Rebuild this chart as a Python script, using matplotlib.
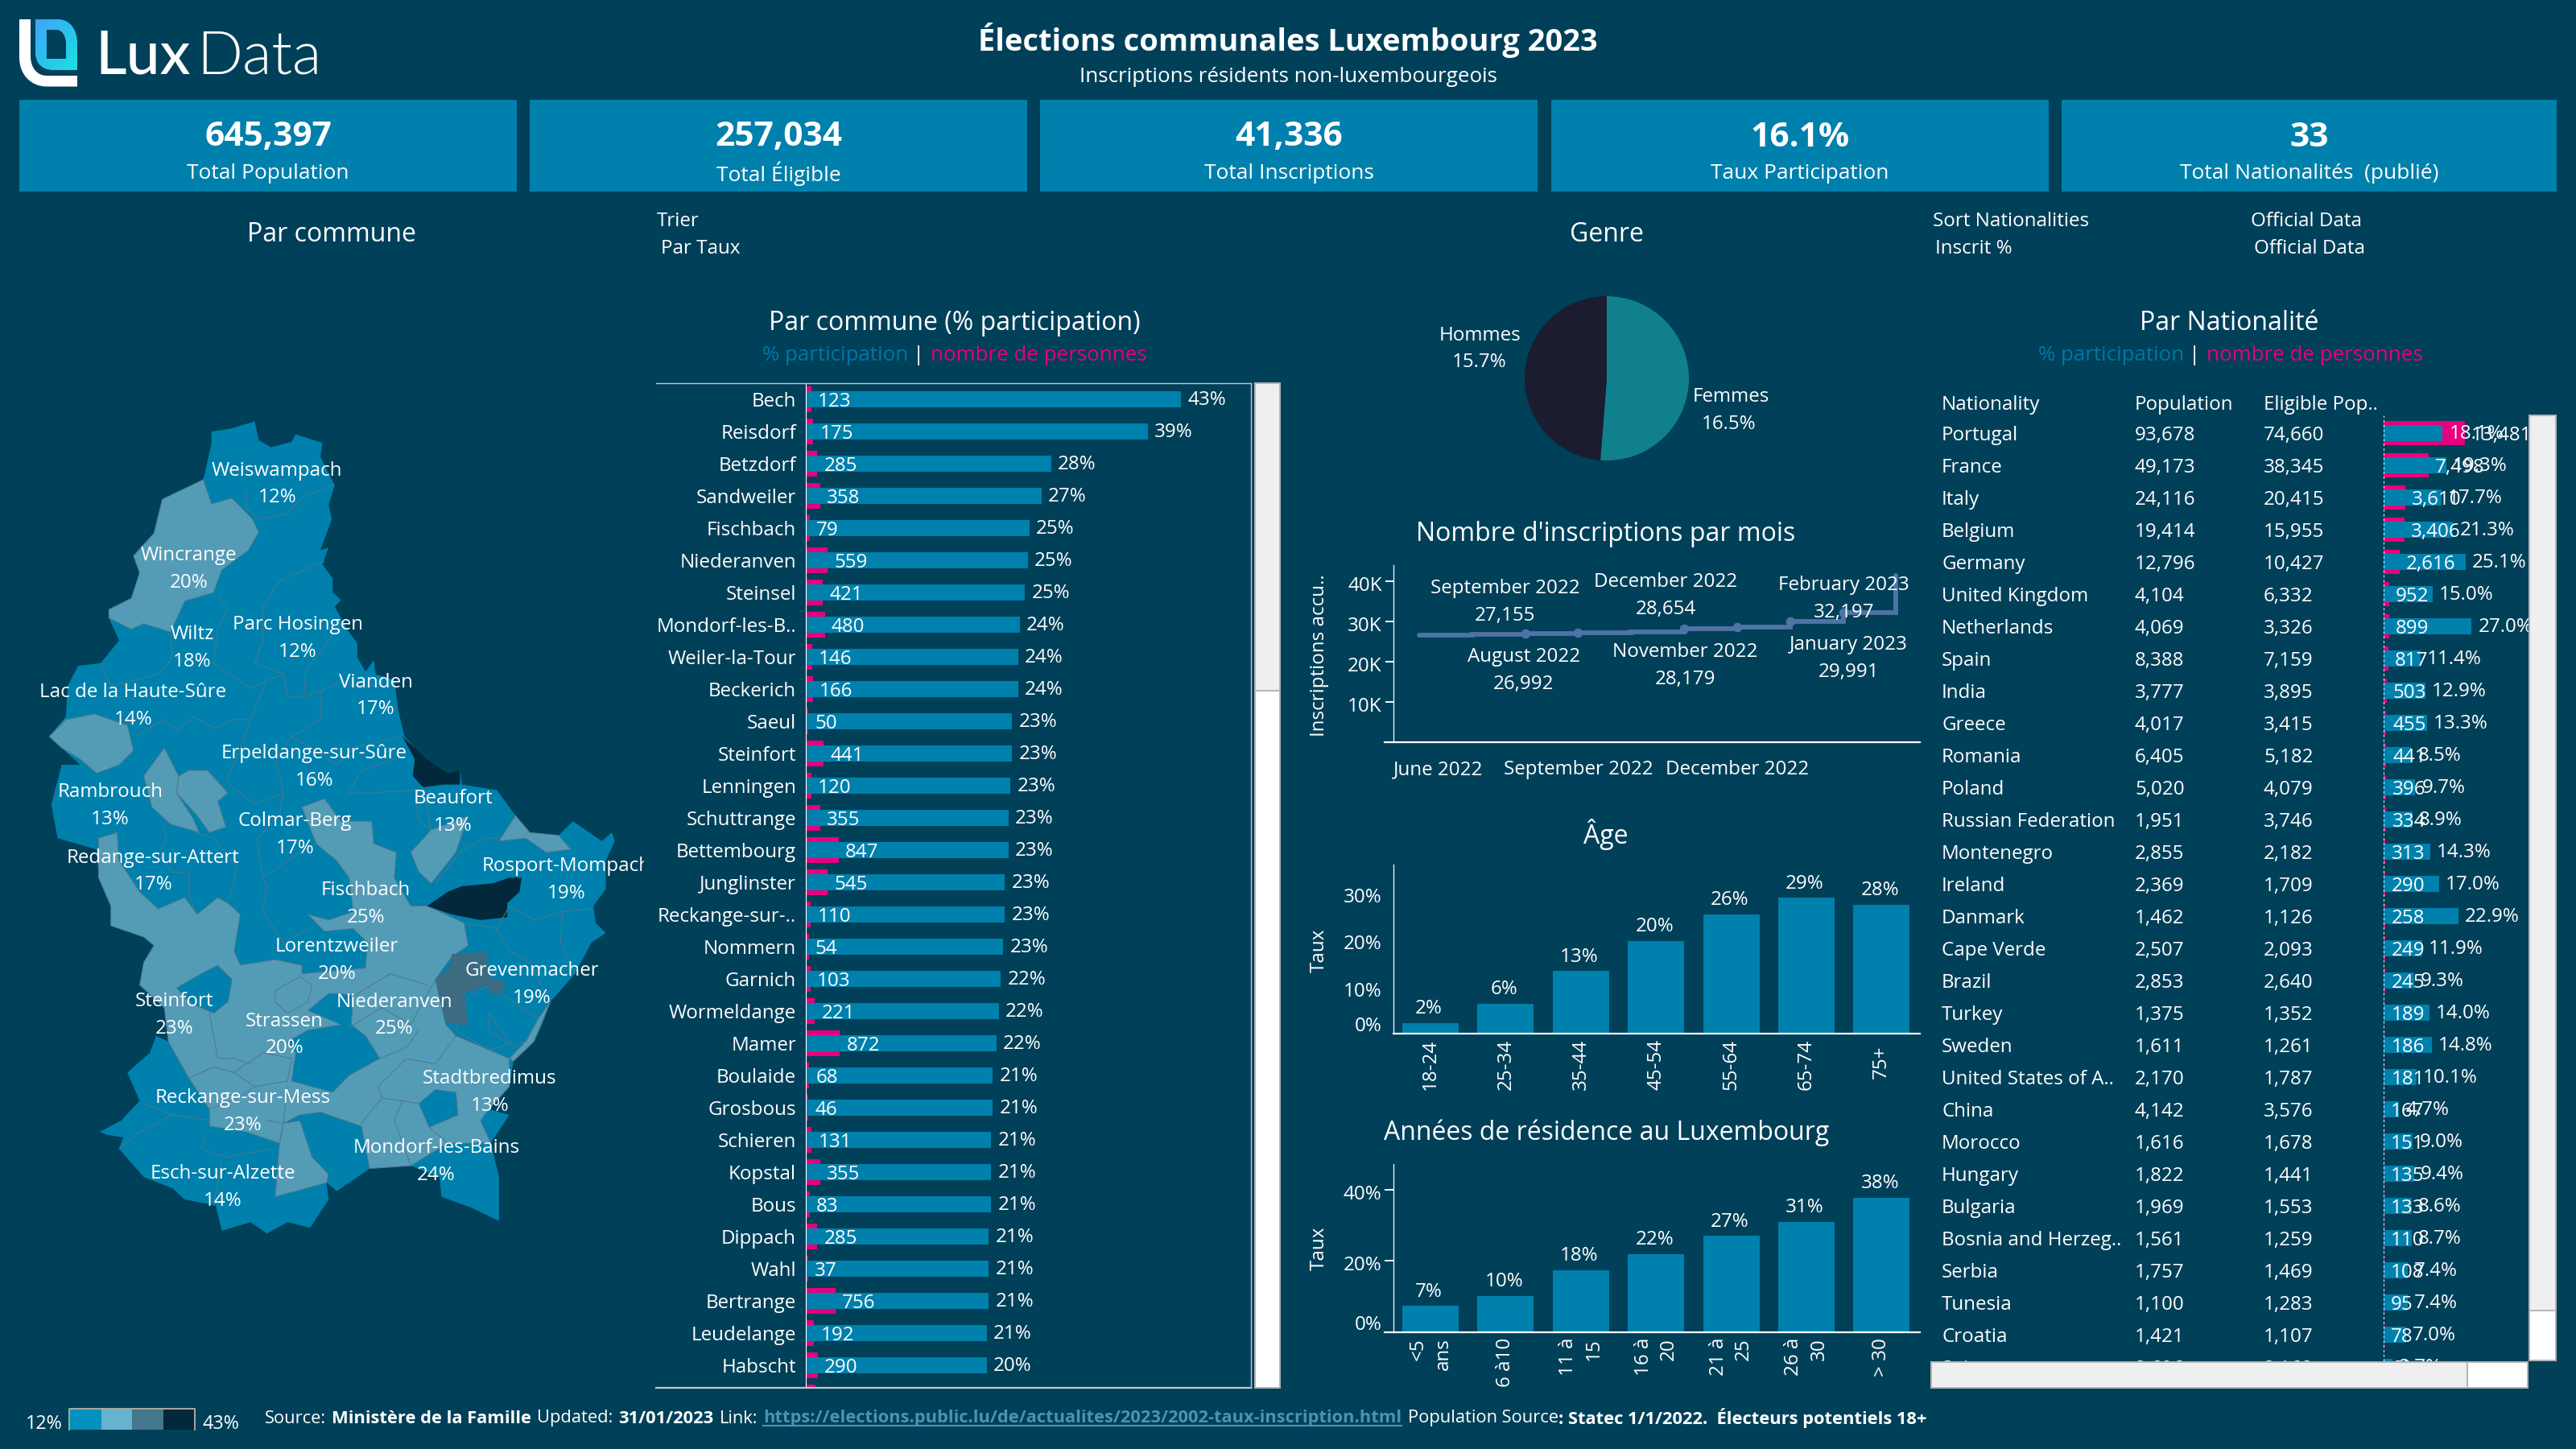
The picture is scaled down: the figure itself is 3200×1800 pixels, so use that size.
#!/usr/bin/env python
# -*- coding: utf8 -*-

import numpy as np
import matplotlib
matplotlib.use("Agg")
import matplotlib.pyplot as plt
from matplotlib.colors import LinearSegmentedColormap
from matplotlib.patches import PathPatch, Polygon, Rectangle
from matplotlib.path import Path
from matplotlib.transforms import ScaledTranslation

BG = '#004059'
BLUE = '#0080ac'
LIGHT = '#549bb6'
MID = '#3d6b82'
DARK = '#02283b'
PINK = '#e6007e'
WHITE = '#ffffff'
GREY = '#b4b4b4'
BORDER = '#4f788c'

kpi_values = ['645,397', '257,034', '41,336', '16.1%', '33']
kpi_labels = ['Total Population', 'Total Éligible', 'Total Inscriptions', 'Taux Participation', 'Total Nationalités  (publié)']

commune_names = ['Bech', 'Reisdorf', 'Betzdorf', 'Sandweiler', 'Fischbach', 'Niederanven', 'Steinsel', 'Mondorf-les-B..',
                 'Weiler-la-Tour', 'Beckerich', 'Saeul', 'Steinfort', 'Lenningen', 'Schuttrange', 'Bettembourg',
                 'Junglinster', 'Reckange-sur-..', 'Nommern', 'Garnich', 'Wormeldange', 'Mamer', 'Boulaide', 'Grosbous',
                 'Schieren', 'Kopstal', 'Bous', 'Dippach', 'Wahl', 'Bertrange', 'Leudelange', 'Habscht', '']
commune_pct = [43.0, 39.2, 28.1, 27.0, 25.6, 25.4, 25.1, 24.5, 24.3, 24.3, 23.6, 23.6, 23.4, 23.2, 23.2, 22.8, 22.8, 22.6,
               22.3, 22.1, 21.8, 21.4, 21.4, 21.2, 21.2, 21.2, 20.9, 20.9, 20.9, 20.7, 20.7, 20.4]
commune_pct_labels = ['43%', '39%', '28%', '27%', '25%', '25%', '25%', '24%', '24%', '24%', '23%', '23%', '23%', '23%',
                      '23%', '23%', '23%', '23%', '22%', '22%', '22%', '21%', '21%', '21%', '21%', '21%', '21%', '21%',
                      '21%', '21%', '20%', '20%']
commune_count = [123, 175, 285, 358, 79, 559, 421, 480, 146, 166, 50, 441, 120, 355, 847, 545, 110, 54, 103, 221, 872, 68,
                 46, 131, 355, 83, 285, 37, 756, 192, 290, 240]

nat_names = ['Portugal', 'France', 'Italy', 'Belgium', 'Germany', 'United Kingdom', 'Netherlands', 'Spain', 'India',
             'Greece', 'Romania', 'Poland', 'Russian Federation', 'Montenegro', 'Ireland', 'Danmark', 'Cape Verde',
             'Brazil', 'Turkey', 'Sweden', 'United States of A..', 'China', 'Morocco', 'Hungary', 'Bulgaria',
             'Bosnia and Herzeg..', 'Serbia', 'Tunesia', 'Croatia', 'Suisse']
nat_population = [93678, 49173, 24116, 19414, 12796, 4104, 4069, 8388, 3777, 4017, 6405, 5020, 1951, 2855, 2369, 1462,
                  2507, 2853, 1375, 1611, 2170, 4142, 1616, 1822, 1969, 1561, 1757, 1100, 1421, 2696]
nat_eligible = [74660, 38345, 20415, 15955, 10427, 6332, 3326, 7159, 3895, 3415, 5182, 4079, 3746, 2182, 1709, 1126,
                2093, 2640, 1352, 1261, 1787, 3576, 1678, 1441, 1553, 1259, 1469, 1283, 1107, 2168]
nat_pct = [18.1, 19.3, 17.7, 21.3, 25.1, 15.0, 27.0, 11.4, 12.9, 13.3, 8.5, 9.7, 8.9, 14.3, 17.0, 22.9, 11.9, 9.3, 14.0,
           14.8, 10.1, 4.7, 9.0, 9.4, 8.6, 8.7, 7.4, 7.4, 7.0, 2.7]
nat_count = [13481, 7498, 3610, 3406, 2616, 952, 899, 817, 503, 455, 441, 396, 334, 313, 290, 258, 249, 245, 189, 186,
             181, 167, 151, 135, 133, 110, 108, 95, 78, 60]

genre_labels = ['Femmes', 'Hommes']
genre_values = [16.5, 15.7]

months = ['June 2022', 'July 2022', 'August 2022', 'September 2022', 'October 2022', 'November 2022', 'December 2022',
          'January 2023', 'February 2023', 'March 2023']
month_values = [26600, 26750, 26992, 27155, 27500, 28179, 28654, 29991, 32197, 41336]

age_labels = ['18-24', '25-34', '35-44', '45-54', '55-64', '65-74', '75+']
age_values = [2.3, 6.4, 13.3, 19.8, 25.4, 28.9, 27.5]
age_value_labels = ['2%', '6%', '13%', '20%', '26%', '29%', '28%']

res_labels = ['<5\nans', '6 à10', '11 à\n15', '16 à\n20', '21 à\n25', '26 à\n30', '> 30']
res_values = [7.4, 10.2, 17.4, 22.0, 27.0, 31.0, 37.8]
res_value_labels = ['7%', '10%', '18%', '22%', '27%', '31%', '38%']

legend_colors = ['#0190c0', '#66b2cf', '#44778b', '#03283a']

# map shapes
lux_outline = [(515, 80), (560, 75), (620, 62), (630, 95), (660, 108), (710, 98), (720, 85), (785, 100), (780, 125),
               (815, 175), (800, 210), (808, 235), (780, 290), (800, 285), (785, 315), (810, 340), (810, 365), (830, 378),
               (815, 390), (845, 430), (870, 455), (870, 480), (890, 505), (910, 485), (915, 510), (960, 520), (970, 575),
               (985, 620), (1010, 640), (1040, 660), (1090, 685), (1120, 680), (1125, 705), (1210, 715), (1250, 755),
               (1290, 790), (1360, 795), (1395, 770), (1465, 805), (1490, 790), (1497, 805), (1475, 840), (1475, 890),
               (1445, 920), (1450, 950), (1475, 968), (1440, 985), (1400, 1040), (1340, 1090), (1320, 1130), (1300, 1160),
               (1250, 1195), (1240, 1240), (1190, 1280), (1240, 1290), (1195, 1340), (1215, 1400), (1215, 1478),
               (1150, 1455), (1075, 1435), (1070, 1400), (1000, 1380), (900, 1385), (840, 1415), (820, 1425), (795, 1410),
               (800, 1440), (755, 1490), (700, 1480), (650, 1500), (610, 1480), (540, 1495), (525, 1450), (450, 1440),
               (420, 1420), (350, 1400), (290, 1350), (300, 1330), (260, 1325), (243, 1320), (295, 1300), (340, 1265),
               (310, 1215), (365, 1180), (380, 1150), (410, 1160), (400, 1100), (340, 1060), (350, 1020), (375, 990),
               (350, 975), (270, 955), (270, 920), (240, 870), (235, 820), (140, 800), (125, 740), (150, 670), (195, 670),
               (120, 620), (160, 585), (165, 530), (190, 495), (245, 490), (290, 450), (265, 410), (265, 395), (320, 375),
               (340, 330), (325, 300), (375, 260), (395, 200), (495, 165), (515, 100)]

light_regions = [
    [(495, 165), (515, 208), (565, 198), (615, 235), (630, 258), (605, 290), (540, 325), (520, 365), (450, 380), (415, 435),
     (350, 420), (320, 430), (265, 410), (265, 395), (320, 375), (340, 330), (325, 300), (375, 260), (395, 200)],
    [(120, 620), (160, 590), (230, 580), (310, 600), (325, 645), (290, 670), (235, 685), (195, 660), (150, 640)],
    [(400, 640), (435, 690), (430, 720), (470, 765), (485, 790), (415, 775), (370, 745), (350, 690)],
    [(460, 680), (505, 680), (555, 720), (530, 735), (550, 780), (510, 790), (480, 760), (430, 720), (435, 690)],
    [(240, 800), (285, 790), (290, 840), (340, 895), (385, 925), (450, 905), (480, 935), (530, 905), (555, 915), (585, 935),
     (570, 1000), (585, 1025), (670, 1015), (735, 1025), (735, 1040), (890, 1030), (895, 985), (860, 960), (790, 965),
     (750, 935), (800, 945), (860, 930), (850, 870), (820, 840), (770, 810), (735, 745), (790, 730), (830, 770), (905, 770),
     (910, 810), (965, 825), (960, 870), (1000, 920), (1040, 920), (1130, 950), (1140, 990), (1100, 1010), (1060, 1050),
     (1085, 1130), (1110, 1150), (1240, 1190), (1240, 1240), (1190, 1280), (1170, 1300), (1195, 1340), (1090, 1340),
     (1000, 1380), (900, 1385), (880, 1310), (780, 1285), (730, 1290), (690, 1305), (680, 1340), (600, 1320), (510, 1310),
     (510, 1280), (460, 1225), (410, 1160), (400, 1100), (340, 1060), (350, 1020), (375, 990), (350, 975), (270, 955),
     (270, 920), (240, 870)],
    [(690, 1305), (730, 1300), (760, 1365), (800, 1395), (795, 1410), (670, 1435), (680, 1345)],
    [(1000, 825), (1050, 785), (1110, 770), (1140, 760), (1110, 825), (1050, 880), (1020, 860)],
    [(1215, 805), (1255, 760), (1290, 790), (1360, 795), (1390, 820), (1330, 825), (1280, 800)],
    [(1340, 1090), (1300, 1160), (1250, 1195), (1240, 1190), (1280, 1160), (1310, 1120)],
]

blue_regions = [
    [(430, 1065), (490, 1040), (530, 1025), (565, 1050), (555, 1090), (520, 1110), (460, 1090)],
    [(750, 1105), (800, 1075), (830, 1075), (860, 1080), (855, 1130), (890, 1150), (925, 1190), (850, 1220), (810, 1250),
     (710, 1230), (720, 1180), (700, 1160), (750, 1140), (830, 1130)],
    [(1020, 1270), (1060, 1245), (1110, 1250), (1115, 1290), (1045, 1312)],
    [(1110, 1140), (1140, 1080), (1190, 1060), (1240, 1085), (1310, 1120), (1280, 1160), (1250, 1170), (1190, 1110),
     (1190, 1140), (1240, 1165), (1190, 1175)],
]

dark_regions = [
    [(980, 620), (1010, 640), (1040, 660), (1090, 685), (1120, 680), (1120, 705), (1080, 705), (1030, 710), (1005, 690),
     (1010, 660)],
    [(1040, 920), (1090, 895), (1125, 885), (1200, 880), (1240, 870), (1270, 870), (1265, 895), (1235, 915), (1235, 940),
     (1170, 945), (1100, 935)],
]

mid_region = [(1100, 1005), (1185, 1002), (1190, 1045), (1230, 1055), (1225, 1075), (1195, 1075), (1185, 1060), (1130, 1075),
              (1140, 1130), (1110, 1130), (1085, 1125), (1060, 1050), (1095, 1030)]

commune_borders = [
    [(600, 185), (600, 215), (630, 235), (700, 225), (740, 195), (810, 175)],
    [(530, 370), (555, 395), (530, 430), (520, 490), (570, 515), (610, 535), (650, 520), (690, 510), (700, 550), (740, 550),
     (780, 540), (820, 525), (870, 530), (940, 530)],
    [(640, 390), (680, 345), (740, 325), (790, 310)],
    [(640, 390), (640, 450), (620, 490), (690, 510)],
    [(740, 550), (745, 500), (780, 470), (810, 440)],
    [(415, 435), (420, 480), (385, 510), (330, 520), (270, 530), (245, 490)],
    [(330, 620), (400, 590), (430, 610), (470, 585), (520, 605), (570, 590), (610, 590), (650, 520)],
    [(610, 590), (580, 650), (550, 700), (620, 740), (690, 720), (670, 660), (710, 620), (780, 590), (780, 540)],
    [(710, 620), (760, 640), (820, 670), (860, 640), (975, 620)],
    [(850, 720), (880, 680), (960, 660)],
    [(850, 720), (900, 720), (1010, 715), (1020, 770), (1050, 785)],
    [(690, 720), (680, 760), (640, 790), (625, 800), (640, 870), (650, 885), (640, 930), (690, 985), (750, 960)],
    [(640, 870), (720, 830), (770, 810)],
    [(400, 780), (405, 800), (385, 830), (420, 860), (460, 860), (460, 900), (475, 930)],
    [(480, 790), (520, 800), (575, 850), (570, 880), (555, 910)],
    [(1130, 950), (1210, 960), (1240, 1000), (1290, 1020), (1340, 1090)],
    [(1210, 960), (1240, 920), (1300, 945), (1370, 930), (1440, 925)],
    [(1370, 930), (1365, 985), (1400, 1040)],
    [(1120, 825), (1180, 800), (1215, 800)],
    [(1060, 880), (1120, 825)],
    [(1030, 710), (1050, 785)],
    [(510, 1110), (530, 1190), (570, 1190), (610, 1200)],
    [(670, 1070), (730, 1045), (760, 1060), (750, 1090), (700, 1110), (670, 1090), (670, 1070)],
    [(570, 1215), (640, 1180), (710, 1190), (700, 1230), (620, 1240), (570, 1215)],
    [(460, 1225), (520, 1205), (570, 1215)],
    [(510, 1280), (580, 1260), (620, 1240)],
    [(650, 1300), (690, 1305), (700, 1240)],
    [(850, 1135), (930, 1100), (1000, 1130), (1060, 1050)],
    [(860, 1080), (950, 1040), (1040, 1060)],
    [(925, 1190), (990, 1170), (1020, 1140)],
    [(920, 1240), (990, 1190), (1060, 1200), (1110, 1150)],
    [(920, 1240), (930, 1260), (980, 1265), (1020, 1270)],
    [(880, 1305), (930, 1260)],
    [(980, 1265), (960, 1300), (1000, 1380)],
    [(1045, 1312), (1090, 1340)],
    [(290, 1350), (340, 1320), (420, 1290), (510, 1300)],
    [(500, 1325), (490, 1350), (550, 1365), (660, 1350)],
    [(540, 1370), (520, 1450)],
    [(350, 1270), (420, 1290)],
]

map_names = ['Weiswampach', 'Wincrange', 'Parc Hosingen', 'Wiltz', 'Vianden', 'Lac de la Haute-Sûre', 'Erpeldange-sur-Sûre',
             'Beaufort', 'Rambrouch', 'Colmar-Berg', 'Redange-sur-Attert', 'Rosport-Mompach', 'Fischbach', 'Lorentzweiler',
             'Grevenmacher', 'Steinfort', 'Niederanven', 'Strassen', 'Stadtbredimus', 'Reckange-sur-Mess',
             'Mondorf-les-Bains', 'Esch-sur-Alzette']
map_pct = ['12%', '20%', '12%', '18%', '17%', '14%', '16%', '13%', '13%', '17%', '17%', '19%', '25%', '20%', '19%', '23%',
           '25%', '20%', '13%', '23%', '24%', '14%']
map_x = [675, 460, 725, 468, 915, 324, 765, 1103, 268, 718, 373, 1380, 890, 820, 1295, 424, 960, 693, 1192, 592, 1062, 543]
map_y = [145, 296, 418, 435, 520, 538, 646, 726, 715, 766, 831, 846, 889, 988, 1031, 1085, 1086, 1120, 1222, 1256, 1345, 1390]

plt.rcParams['font.family'] = ['Open Sans', 'DejaVu Sans']
plt.rcParams['font.size'] = 9

W, H = 3200, 1800
BODY = 8.7
HEAD = 11.5


def px_axes(fig, x0, y0, x1, y1, zorder=2):
    """axes placed by picture pixels (y going down)"""
    ax = fig.add_axes([x0 / W, 1 - y1 / H, (x1 - x0) / W, (y1 - y0) / H], zorder=zorder)
    ax.patch.set_alpha(0)
    return ax


def label(ov, x, y, s, **kw):
    """overlay text, centred a little lower since Open Sans sits high"""
    kw.setdefault('color', WHITE)
    kw.setdefault('va', 'center')
    kw.setdefault('fontsize', BODY)
    return ov.text(x, y + 3, s, **kw)


def draw_logo(fig):
    ax = px_axes(fig, 0, 0, 140, 120)
    ax.set_xlim(0, 140)
    ax.set_ylim(120, 0)
    ax.axis('off')

    L, M, C, Z = Path.LINETO, Path.MOVETO, Path.CURVE4, Path.CLOSEPOLY
    white = Path([(24, 24), (38, 24), (38, 70), (38, 84), (46, 94), (58, 94), (96, 94), (96, 107.5), (58, 107.5),
                  (38, 107.5), (24, 92), (24, 72), (24, 24)],
                 [M, L, L, C, C, C, L, L, L, C, C, C, Z])
    ax.add_patch(PathPatch(white, fc=WHITE, ec='none'))

    blue = Path([(44, 24), (72, 24), (88, 24), (96, 38), (96, 54), (96, 87), (66, 87), (52, 87), (44, 78), (44, 66), (44, 24),
                 (58, 37), (58, 73), (82, 73), (82, 55), (82, 46), (78, 37), (70, 37), (58, 37)],
                [M, L, C, C, C, L, L, C, C, C, Z,
                 M, L, L, L, C, C, C, Z])
    patch = PathPatch(blue, fc='none', ec='none')
    ax.add_patch(patch)
    cmap = LinearSegmentedColormap.from_list('logo', ['#42a2f8', '#17e2e2'])
    yy, xx = np.mgrid[0:1:50j, 0:1:50j]
    img = ax.imshow(xx + yy, cmap=cmap, extent=(44, 96, 87, 24), aspect='auto')
    img.set_clip_path(patch)
    ax.set_xlim(0, 140)
    ax.set_ylim(120, 0)


def draw_map(fig):
    ax = px_axes(fig, 0, 480, 800, 1580)
    ax.set_xlim(0, 1568)
    ax.set_ylim(1568, 0)
    ax.axis('off')

    ax.add_patch(Polygon(lux_outline, fc=BLUE, ec='none'))
    for region in light_regions:
        ax.add_patch(Polygon(region, fc=LIGHT, ec=BORDER, lw=0.35))
    for region in blue_regions:
        ax.add_patch(Polygon(region, fc=BLUE, ec=BORDER, lw=0.35))
    for region in dark_regions:
        ax.add_patch(Polygon(region, fc=DARK, ec='none'))
    ax.add_patch(Polygon(mid_region, fc=MID, ec='none'))
    for line in commune_borders:
        xs, ys = zip(*line)
        ax.plot(xs, ys, color=BORDER, lw=0.35)

    for name, pct, x, y in zip(map_names, map_pct, map_x, map_y):
        ax.text(x, y + 4, name, color=WHITE, ha='center', va='center', fontsize=BODY, clip_on=True)
        ax.text(x, y + 52, pct, color=WHITE, ha='center', va='center', fontsize=BODY, clip_on=True)


def draw_commune_bars(fig):
    x0, x1, y0, y1 = 1002, 1554, 476, 1724
    row0, row_h = 496, 40
    ylim = ((y1 - row0) / row_h, (y0 - row0) / row_h)
    rows = np.arange(len(commune_names))
    count_xlim = (0, (x1 - x0) / 0.047)

    ax_pink = px_axes(fig, x0, y0, x1, y1, zorder=1)
    ax_pink.set_xlim(*count_xlim)
    ax_pink.set_ylim(*ylim)
    ax_pink.axis('off')
    ax_pink.barh(rows, commune_count, height=0.78, color=PINK)

    ax = px_axes(fig, x0, y0, x1, y1, zorder=3)
    ax.set_xlim(0, (x1 - x0) / 10.81)
    ax.set_ylim(*ylim)
    ax.axis('off')
    ax.barh(rows, commune_pct, height=0.5, color=BLUE)

    # counts sit on top of the teal bars
    ax_text = px_axes(fig, x0, y0, x1, y1, zorder=4)
    ax_text.set_xlim(*count_xlim)
    ax_text.set_ylim(*ylim)
    ax_text.axis('off')

    for i, name in enumerate(commune_names):
        if not name:
            continue
        ax.annotate(commune_pct_labels[i], (commune_pct[i], i), xytext=(3, -0.3), textcoords='offset points',
                    color=WHITE, va='center', ha='left', fontsize=BODY)
        ax_text.annotate(f"{commune_count[i]:,}", (commune_count[i], i), xytext=(3, -1), textcoords='offset points',
                         color=WHITE, va='center', ha='left', fontsize=BODY)


def draw_nat_table(fig, ov):
    x0, x1, y0, y1 = 2961, 3141, 516, 1691
    row0, row_h = 538, 40
    ylim = ((y1 - row0) / row_h, (y0 - row0) / row_h)
    rows = np.arange(len(nat_names))

    ax_pink = px_axes(fig, x0, y0, x1, y1, zorder=1)
    ax_pink.set_xlim(0, (x1 - x0) / 0.0075)
    ax_pink.set_ylim(*ylim)
    ax_pink.axis('off')
    ax_pink.barh(rows, nat_count, height=0.75, color=PINK)

    ax = px_axes(fig, x0, y0, x1, y1, zorder=3)
    ax.set_xlim(0, (x1 - x0) / 4.05)
    ax.set_ylim(*ylim)
    ax.axis('off')
    ax.barh(rows, nat_pct, height=0.5, color=BLUE)
    ax.plot([0, 0], [ylim[0], ylim[1]], color=WHITE, lw=0.35, ls=(0, (3, 3)), clip_on=False)

    count_scale = (x1 - x0) / ax_pink.get_xlim()[1]
    pct_scale = (x1 - x0) / ax.get_xlim()[1]
    for i in rows:
        ax.text(nat_pct[i] + 8 / pct_scale, i + 0.03, f"{nat_pct[i]:.1f}%", color=WHITE, va='center', fontsize=BODY,
                clip_on=True)
        ax.text((nat_count[i] * count_scale + 8) / pct_scale, i + 0.07, f"{nat_count[i]:,}", color=WHITE, va='center',
                fontsize=BODY, clip_on=True)

    tb = px_axes(fig, 2400, y0, x0, y1, zorder=3)
    tb.set_xlim(2400, x0)
    tb.set_ylim(*ylim)
    tb.axis('off')
    for i in rows:
        tb.text(2412, i + 0.07, nat_names[i], color=WHITE, va='center', fontsize=BODY, clip_on=True)
        tb.text(2652, i + 0.07, f"{nat_population[i]:,}", color=WHITE, va='center', fontsize=BODY, clip_on=True)
        tb.text(2812, i + 0.07, f"{nat_eligible[i]:,}", color=WHITE, va='center', fontsize=BODY, clip_on=True)

    for x, head in zip([2412, 2652, 2812], ['Nationality', 'Population', 'Eligible Pop..']):
        label(ov, x, 500, head)


def draw_pie(fig):
    ax = px_axes(fig, 1894, 368, 2098, 572)
    ax.pie(genre_values, colors=['#10808c', '#1b1c30'], startangle=90, counterclock=False, radius=1)
    ax.set_xlim(-1, 1)
    ax.set_ylim(-1, 1)


def style_left_axis(ax, extend_bottom=True):
    for s in ['top', 'right', 'bottom']:
        ax.spines[s].set_visible(False)
    ax.spines['left'].set_color(WHITE)
    ax.spines['left'].set_linewidth(0.45)
    start = -11 / (ax.get_position().width * W) if extend_bottom else 0
    ax.plot([start, 1], [0, 0], transform=ax.transAxes, color=WHITE, lw=0.8, clip_on=False, zorder=5)


def nudge(fig, lbl, dy_px):
    lbl.set_transform(lbl.get_transform() + ScaledTranslation(0, dy_px / 200, fig.dpi_scale_trans))


def draw_months(fig):
    ax = px_axes(fig, 1731, 702, 2385, 922)
    idx = np.arange(len(months))
    ax.set_xlim(-0.485, 9.45)
    ax.set_ylim(0, 44000)
    ax.plot(idx, month_values, drawstyle='steps-post', color='#4e74a5', lw=2.1, solid_capstyle='round',
            solid_joinstyle='miter', clip_on=False)
    shown = [2, 3, 5, 6, 7, 8]
    ax.plot(idx[shown], np.array(month_values)[shown], 'o', color='#4e74a5', ms=4.2, mec='none')

    style_left_axis(ax)
    ax.set_yticks([10000, 20000, 30000, 40000])
    ax.set_yticklabels(['10K', '20K', '30K', '40K'])
    ax.tick_params(axis='y', colors=WHITE, length=3.6, width=0.7, labelsize=BODY, pad=1.5)
    for lbl in ax.get_yticklabels():
        nudge(fig, lbl, -3)
    ax.set_xticks([3, 6])
    ax.set_xticklabels([months[3], months[6]])
    ax.tick_params(axis='x', colors=WHITE, length=0, labelsize=BODY, pad=8)
    ax.annotate(months[0], (0, 0), xycoords='axes fraction', xytext=(0, -8), textcoords='offset points', color=WHITE,
                ha='left', va='top', fontsize=BODY)
    ax.set_ylabel('Inscriptions accu..', color=WHITE, fontsize=BODY, labelpad=0)
    ax.yaxis.set_label_coords(-80 / 654, 0.49)

    # month labels, dodged above and below like in the dashboard
    offsets = {3: (-91, 41), 2: (-2, -43), 6: (-89, 42), 5: (1, -43), 8: (1, 20), 7: (73, -43)}
    for i, (dx, dy) in offsets.items():
        ax.annotate(f"{months[i]}\n{month_values[i]:,}", (i, month_values[i]), xytext=(dx * 0.36, (dy - 3) * 0.36),
                    textcoords='offset points', color=WHITE, ha='center', va='center', fontsize=BODY,
                    multialignment='center', linespacing=1.55)


def draw_bars(fig, y0, y1, labels, values, value_labels, ymax, ticks, show_tick_marks, extend_bottom, label_y):
    ax = px_axes(fig, 1731, y0, 2385, y1)
    x = np.arange(len(labels))
    ax.set_xlim(-0.493, 6.51)
    ax.set_ylim(0, ymax)
    ax.bar(x, values, width=0.75, color=BLUE)
    for i, txt in enumerate(value_labels):
        ax.annotate(txt, (x[i], values[i]), xytext=(-0.7, 6.3), textcoords='offset points', color=WHITE, ha='center',
                    va='center', fontsize=BODY)

    style_left_axis(ax, extend_bottom)
    ax.set_yticks(ticks)
    ax.set_yticklabels([f"{t}%" for t in ticks])
    ax.tick_params(axis='y', colors=WHITE, length=3.8 if show_tick_marks else 0, width=0.7, labelsize=BODY,
                   pad=1.5 if show_tick_marks else 5.3)
    for lbl in ax.get_yticklabels():
        nudge(fig, lbl, -3)
    ax.get_yticklabels()[0].set_verticalalignment('bottom')
    for tick in ax.yaxis.get_major_ticks():
        if tick.get_loc() == 0:
            tick.tick1line.set_visible(False)
    ax.set_xticks(x)
    ax.set_xticklabels(labels, rotation=90, ha='center', va='top', multialignment='right', linespacing=1.4)
    ax.tick_params(axis='x', colors=WHITE, length=0, labelsize=BODY, pad=2.5)
    for lbl in ax.get_xticklabels():
        if lbl.get_text() == '75+':
            nudge(fig, lbl, -8)
    ax.set_ylabel('Taux', color=WHITE, fontsize=BODY)
    ax.yaxis.set_label_coords(-80 / 654, label_y)
    return ax


def draw_footer(fig, ov):
    segments = [('Source:', 'normal', WHITE, 7), ('Ministère de la Famille', 'bold', WHITE, 7),
                ('Updated:', 'normal', WHITE, 7), ('31/01/2023', 'bold', WHITE, 7), ('Link:', 'normal', WHITE, 7),
                ('https://elections.public.lu/de/actualites/2023/2002-taux-inscription.html', 'bold', '#4a93b4', 8),
                ('Population Source', 'normal', WHITE, 0),
                (': Statec 1/1/2022.  Électeurs potentiels 18+', 'bold', WHITE, 0)]
    r = fig.canvas.get_renderer()
    x = 329
    for s, weight, color, gap in segments:
        t = label(ov, x, 1759, s, color=color, weight=weight, ha='left', fontsize=7.9)
        w = t.get_window_extent(r).width
        if s.startswith('http'):
            ov.plot([x, x + w], [1771, 1771], color=color, lw=0.8)
        x += w + gap


if __name__ == "__main__":
    fig = plt.figure(figsize=(16, 9), dpi=200, facecolor=BG)

    ov = px_axes(fig, 0, 0, W, H, zorder=10)
    ov.set_xlim(0, W)
    ov.set_ylim(H, 0)
    ov.axis('off')

    draw_logo(fig)
    ov.text(118, 91, 'Lux', color=WHITE, family='Lato', weight=500, fontsize=27, va='baseline')
    ov.text(244, 91, 'Data', color=WHITE, family='Lato', weight=300, fontsize=27, va='baseline')

    label(ov, 1600, 47, 'Élections communales Luxembourg 2023', weight='bold', fontsize=13.7, ha='center')
    label(ov, 1600, 92, 'Inscriptions résidents non-luxembourgeois', fontsize=9.35, ha='center')

    # KPI cards
    card_left = [24, 658, 1292, 1927, 2561]
    card_right = [642, 1276, 1910, 2545, 3176]
    for a, b, val, lab in zip(card_left, card_right, kpi_values, kpi_labels):
        ov.add_patch(Rectangle((a, 124), b - a, 114, fc=BLUE, ec='none'))
        label(ov, (a + b) / 2, 168, val, weight='bold', fontsize=15.3, ha='center')
        label(ov, (a + b) / 2, 213, lab, fontsize=9.5, ha='center')

    # section titles and the filters
    label(ov, 412, 289, 'Par commune', fontsize=HEAD, ha='center')
    label(ov, 1996, 289, 'Genre', fontsize=HEAD, ha='center')
    label(ov, 816, 272, 'Trier')
    label(ov, 821, 306, 'Par Taux')
    label(ov, 2401, 272, 'Sort Nationalities')
    label(ov, 2404, 306, 'Inscrit %')
    label(ov, 2796, 272, 'Official Data')
    label(ov, 2800, 306, 'Official Data')

    label(ov, 1186, 398, 'Par commune (% participation)', fontsize=HEAD, ha='center')
    label(ov, 2769, 398, 'Par Nationalité', fontsize=HEAD, ha='center')
    for pipe in [1141, 2726]:
        label(ov, pipe - 13, 439, '% participation', color='#0076a3', fontsize=9.3, ha='right')
        label(ov, pipe, 439, '|', fontsize=9.3, ha='center')
        label(ov, pipe + 15, 439, 'nombre de personnes', color=PINK, fontsize=9.3, ha='left')

    draw_map(fig)

    draw_commune_bars(fig)
    for n, name in enumerate(commune_names):
        if name:
            label(ov, 989, 496 + 40 * n, name, ha='right')
    ov.plot([1001, 1001], [476, 1724], color=WHITE, lw=0.4)
    ov.plot([815, 1554], [476, 476], color='#c8c8c8', lw=0.5)
    ov.plot([815, 1554], [1724, 1724], color='#c8c8c8', lw=0.8)
    ov.plot([1554, 1554], [476, 1724], color='#c8c8c8', lw=0.5)
    ov.add_patch(Rectangle((1559, 476), 31, 1248, fc=WHITE, ec=GREY, lw=0.7))
    ov.add_patch(Rectangle((1559, 476), 31, 382, fc='#efefef', ec=GREY, lw=0.7))

    draw_pie(fig)
    for x, y, s in [(1839, 414, 'Hommes'), (1838, 447, '15.7%'), (2150, 490, 'Femmes'), (2148, 524, '16.5%')]:
        label(ov, x, y, s, ha='center')

    label(ov, 1995, 660, "Nombre d'inscriptions par mois", fontsize=HEAD, ha='center')
    draw_months(fig)

    label(ov, 1995, 1033, 'Âge', fontsize=HEAD, ha='center')
    draw_bars(fig, 1074, 1284, age_labels, age_values, age_value_labels, 36, [0, 10, 20, 30], False, False, 0.49)

    label(ov, 1996, 1404, 'Années de résidence au Luxembourg', fontsize=HEAD, ha='center')
    draw_bars(fig, 1446, 1655, res_labels, res_values, res_value_labels, 47.2, [0, 20, 40], True, True, 0.5)

    draw_nat_table(fig, ov)
    ov.add_patch(Rectangle((3142, 516), 33, 1174, fc=WHITE, ec=GREY, lw=0.7))
    ov.add_patch(Rectangle((3142, 516), 33, 1112, fc='#efefef', ec=GREY, lw=0.7))
    ov.add_patch(Rectangle((2399, 1692), 741, 32, fc=WHITE, ec=GREY, lw=0.7))
    ov.add_patch(Rectangle((2399, 1692), 666, 32, fc='#efefef', ec=GREY, lw=0.7))

    # colour legend under the map
    for i, col in enumerate(legend_colors):
        ov.add_patch(Rectangle((87 + 38.5 * i, 1750), 38.5, 26, fc=col, ec='none'))
    ov.plot([86, 86, 242, 242], [1776, 1750, 1750, 1776], color='#a9a9a0', lw=0.7)
    label(ov, 78, 1766, '12%', ha='right', fontsize=8.4)
    label(ov, 251, 1766, '43%', ha='left', fontsize=8.4)

    draw_footer(fig, ov)

    fig.savefig('out.png', dpi=200, facecolor=BG)
